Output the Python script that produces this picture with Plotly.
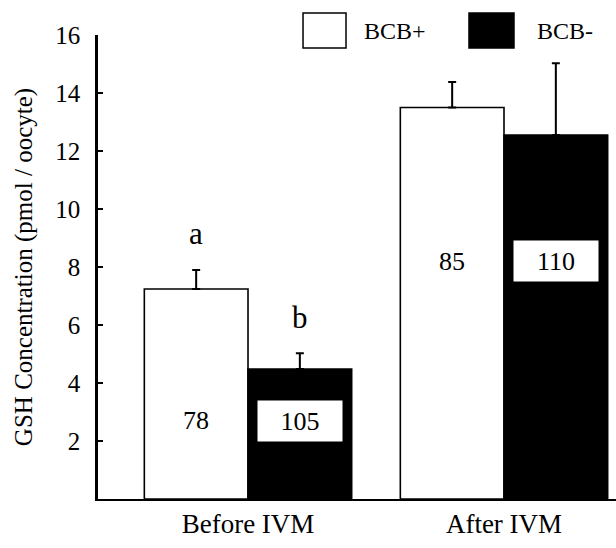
import plotly.graph_objects as go

categories = ["Before IVM", "After IVM"]
series_names = ["BCB+", "BCB-"]
bcb_pos = [7.24, 13.5]
bcb_pos_err = [0.66, 0.88]
bcb_neg = [4.48, 12.55]
bcb_neg_err = [0.55, 2.48]
n_pos = [78, 85]
n_neg = [105, 110]
sig_letters_pos = ["a", ""]
sig_letters_neg = ["b", ""]
y_ticks = [2, 4, 6, 8, 10, 12, 14, 16]

FONT = "Liberation Serif"
BARGAP = 0.19
half = (1 - BARGAP) / 4  # offset of each bar centre from group centre

fig = go.Figure()
fig.add_trace(go.Bar(
    x=categories, y=bcb_pos, name=series_names[0],
    marker=dict(color="white", line=dict(color="black", width=1.6)),
    error_y=dict(type="data", array=bcb_pos_err, arrayminus=[0, 0], symmetric=False,
                 color="black", thickness=2, width=4),
    showlegend=False,
))
fig.add_trace(go.Bar(
    x=categories, y=bcb_neg, name=series_names[1],
    marker=dict(color="black", line=dict(color="black", width=1.6)),
    error_y=dict(type="data", array=bcb_neg_err, arrayminus=[0, 0], symmetric=False,
                 color="black", thickness=2, width=4),
    showlegend=False,
))

label_y = [2.7, 8.2]
annotations = []
for i in range(len(categories)):
    annotations.append(dict(x=i - half, y=label_y[i], xref="x", yref="y", text=str(n_pos[i]),
                            showarrow=False, font=dict(family=FONT, size=26, color="black")))
    annotations.append(dict(x=i + half, y=label_y[i], xref="x", yref="y", text=str(n_neg[i]),
                            showarrow=False, bgcolor="white", width=82, height=38,
                            font=dict(family=FONT, size=26, color="black")))
    if sig_letters_pos[i]:
        annotations.append(dict(x=i - half, y=bcb_pos[i] + bcb_pos_err[i], xref="x", yref="y",
                                text=sig_letters_pos[i], showarrow=False, yshift=36,
                                font=dict(family=FONT, size=31, color="black")))
    if sig_letters_neg[i]:
        annotations.append(dict(x=i + half, y=bcb_neg[i] + bcb_neg_err[i], xref="x", yref="y",
                                text=sig_letters_neg[i], showarrow=False, yshift=36,
                                font=dict(family=FONT, size=31, color="black")))

# legend (drawn manually to match large swatches)
annotations.append(dict(x=0.5097, y=1.0086, xref="paper", yref="paper", text=series_names[0],
                        showarrow=False, xanchor="left", yanchor="middle",
                        font=dict(family=FONT, size=24, color="black")))
annotations.append(dict(x=0.8436, y=1.0086, xref="paper", yref="paper", text=series_names[1],
                        showarrow=False, xanchor="left", yanchor="middle",
                        font=dict(family=FONT, size=24, color="black")))
shapes = [
    dict(type="rect", xref="paper", yref="paper", x0=0.3958, x1=0.4788, y0=0.972, y1=1.0474,
         fillcolor="white", line=dict(color="black", width=1.5)),
    dict(type="rect", xref="paper", yref="paper", x0=0.7162, x1=0.8031, y0=0.972, y1=1.0474,
         fillcolor="black", line=dict(color="black", width=1.5)),
]

fig.update_layout(
    width=616, height=548,
    margin=dict(l=98, r=0, t=35, b=49),
    paper_bgcolor="white", plot_bgcolor="white",
    barmode="group", bargap=BARGAP, bargroupgap=0,
    font=dict(family=FONT, color="black"),
    annotations=annotations, shapes=shapes,
    xaxis=dict(type="category", range=[-0.586, 1.4375], showline=True, linecolor="black",
               linewidth=2, ticks="", showgrid=False, zeroline=False, automargin=False,
               tickfont=dict(family=FONT, size=27, color="black")),
    yaxis=dict(range=[0, 16], tickvals=y_ticks, showline=True, linecolor="black", linewidth=2.5,
               ticks="inside", ticklen=5, tickwidth=2, tickcolor="black", automargin=False,
               showgrid=False, zeroline=False, ticklabelstandoff=10,
               tickfont=dict(family=FONT, size=25, color="black"),
               title=dict(text="GSH Concentration (pmol / oocyte)", standoff=16,
                          font=dict(family=FONT, size=25, color="black"))),
)

fig.write_html("out.html", config={"displayModeBar": False},
               post_script="document.body.style.margin='0';document.body.style.overflow='hidden';")
